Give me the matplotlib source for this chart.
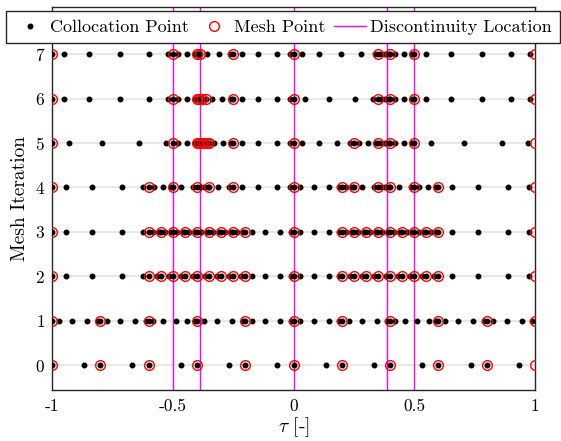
import numpy as np
import matplotlib.pyplot as plt

#--------#
# INPUTS #
#--------#

# Discontinuity locations in tau
disc = [-0.5, -0.389, 0.0, 0.389, 0.5]

# Mesh points (red circles) for each mesh iteration
mesh_0 = [-1, -0.8, -0.6, -0.4, -0.2, 0, 0.2, 0.4, 0.6, 0.8, 1]
mesh_1 = [-1, -0.8, -0.6, -0.4, -0.2, 0, 0.2, 0.4, 0.6, 0.8, 1]
mesh_2 = [-1, -0.6, -0.55, -0.5, -0.45, -0.4, -0.35, -0.3, -0.25, -0.2, 0,
          0.2, 0.25, 0.3, 0.35, 0.4, 0.45, 0.5, 0.55, 0.6, 1]
mesh_3 = [-1, -0.6, -0.55, -0.5, -0.45, -0.4, -0.35, -0.3, -0.25, -0.2, 0,
          0.2, 0.25, 0.3, 0.35, 0.4, 0.45, 0.5, 0.55, 0.6, 1]
mesh_4 = [-1, -0.6, -0.5, -0.4, -0.35, -0.25, 0,
          0.2, 0.25, 0.35, 0.4, 0.5, 0.6, 1]
mesh_5 = [-1, -0.5, -0.4, -0.39, -0.38, -0.37, -0.36, -0.35, -0.25, 0,
          0.25, 0.35, 0.4, 0.5, 1]
mesh_6 = [-1, -0.5, -0.4, -0.39, -0.38, -0.3625, -0.25, 0,
          0.35, 0.4, 0.5, 1]
mesh_7 = [-1, -0.5, -0.4, -0.389, -0.25, 0, 0.35, 0.4, 0.5, 1]

# Collocation points (black dots) for each mesh iteration
coll_0 = [-1, -0.867, -0.8, -0.667, -0.6, -0.467, -0.4, -0.267, -0.2, -0.067,
          0, 0.133, 0.2, 0.333, 0.4, 0.533, 0.6, 0.733, 0.8, 0.933]
coll_1 = [-1, -0.972, -0.917, -0.855, -0.811,
          -0.8, -0.772, -0.717, -0.655, -0.611,
          -0.6, -0.580, -0.539, -0.488, -0.440, -0.408,
          -0.4, -0.372, -0.317, -0.255, -0.211,
          -0.2, -0.172, -0.117, -0.055, -0.011,
          0, 0.028, 0.083, 0.145, 0.189,
          0.2, 0.228, 0.283, 0.345, 0.389,
          0.4, 0.420, 0.461, 0.512, 0.560, 0.592,
          0.6, 0.628, 0.683, 0.745, 0.789,
          0.8, 0.828, 0.883, 0.945, 0.989]
coll_2 = [-1, -0.944, -0.834, -0.711, -0.623,
          -0.6, -0.567, -0.55, -0.517, -0.5, -0.467, -0.45, -0.417,
          -0.4, -0.367, -0.35, -0.317, -0.3, -0.267, -0.25, -0.217,
          -0.2, -0.172, -0.117, -0.055, -0.011,
          0, 0.028, 0.083, 0.145, 0.189,
          0.2, 0.233, 0.25, 0.283, 0.3, 0.333, 0.35, 0.383,
          0.4, 0.433, 0.45, 0.483, 0.5, 0.533, 0.55, 0.583,
          0.6, 0.656, 0.766, 0.889, 0.977]
coll_3 = [-1, -0.944, -0.834, -0.711, -0.623,
          -0.6, -0.582, -0.558, -0.55, -0.532, -0.508,
          -0.5, -0.482, -0.458, -0.45, -0.432, -0.408,
          -0.4, -0.382, -0.358, -0.35, -0.332, -0.308,
          -0.3, -0.282, -0.258, -0.25, -0.232, -0.208,
          -0.2, -0.172, -0.117, -0.055, -0.011,
          0, 0.028, 0.083, 0.145, 0.189,
          0.2, 0.218, 0.242, 0.25, 0.268, 0.292,
          0.3, 0.318, 0.342, 0.35, 0.368, 0.392,
          0.4, 0.418, 0.442, 0.45, 0.468, 0.492,
          0.5, 0.518, 0.542, 0.55, 0.568, 0.592,
          0.6, 0.656, 0.766, 0.889, 0.977]
coll_4 = [-1, -0.944, -0.834, -0.711, -0.623,
          -0.6, -0.579, -0.541, -0.509,
          -0.5, -0.4645, -0.4155,
          -0.4, -0.389, -0.370, -0.354,
          -0.35, -0.3145, -0.2655,
          -0.25, -0.215, -0.146, -0.069, -0.014,
          0, 0.028, 0.083, 0.145, 0.189,
          0.2, 0.218, 0.242,
          0.25, 0.2855, 0.3345,
          0.35, 0.361, 0.380, 0.396,
          0.4, 0.4355, 0.4845,
          0.5, 0.521, 0.559, 0.591,
          0.6, 0.656, 0.766, 0.889, 0.977]
coll_5 = [-1, -0.930, -0.792, -0.6385, -0.5285,
          -0.5, -0.479, -0.441, -0.409,
          -0.4, -0.396, -0.39, -0.386, -0.38, -0.376, -0.37, -0.366,
          -0.36, -0.356,
          -0.35, -0.329, -0.291, -0.259,
          -0.25, -0.215, -0.146, -0.069, -0.014,
          0, 0.035, 0.104, 0.181, 0.236,
          0.25, 0.271, 0.309, 0.341,
          0.35, 0.361, 0.380, 0.396,
          0.4, 0.421, 0.459, 0.491,
          0.5, 0.570, 0.708, 0.8615, 0.9715]
coll_6 = [-1, -0.951, -0.848, -0.719, -0.599, -0.520,
          -0.5, -0.479, -0.441, -0.409,
          -0.4, -0.396, -0.39, -0.386, -0.38, -0.372,
          -0.3625, -0.3386, -0.296, -0.260,
          -0.25, -0.215, -0.146, -0.069, -0.014,
          0, 0.049, 0.146, 0.253, 0.330,
          0.35, 0.361, 0.380, 0.396,
          0.4, 0.421, 0.459, 0.491,
          0.5, 0.549, 0.652, 0.781, 0.901, 0.980]
coll_7 = [-1, -0.951, -0.848, -0.719, -0.599, -0.520,
          -0.5, -0.479, -0.441, -0.409,
          -0.4, -0.396, -0.391,
          -0.389, -0.3595, -0.307, -0.2623,
          -0.25, -0.215, -0.146, -0.069, -0.014,
          0, 0.035, 0.107, 0.197, 0.281, 0.336,
          0.35, 0.361, 0.380, 0.396,
          0.4, 0.421, 0.459, 0.491,
          0.5, 0.549, 0.652, 0.781, 0.901, 0.980]

meshes = [mesh_0, mesh_1, mesh_2, mesh_3, mesh_4, mesh_5, mesh_6, mesh_7]
colls = [coll_0, coll_1, coll_2, coll_3, coll_4, coll_5, coll_6, coll_7]

xticks = [-1, -0.5, 0, 0.5, 1]
xticklabels = ['-1', '-0.5', '0', '0.5', '1']

#----------------#
# Visualizations #
#----------------#

plt.rcParams['font.family'] = 'serif'
plt.rcParams['font.serif'] = ['cmr10']
plt.rcParams['mathtext.fontset'] = 'cm'
plt.rcParams['axes.formatter.use_mathtext'] = True

fig = plt.figure(figsize=(5.61, 4.41), dpi=100)
ax = fig.add_axes([52/561, 1-390/441, (535-52)/561, (390-7)/441])

# light horizontal lines at each iteration
ax.yaxis.grid(True, color='#e3e3e3', linewidth=1.2, zorder=0)
ax.set_axisbelow(True)

for i in range(len(meshes)):
    ax.plot(colls[i], [i]*len(colls[i]), linestyle='none', marker='.',
            color='k', markersize=6.5, zorder=3,
            label='Collocation Point' if i == 0 else None)
    ax.plot(meshes[i], [i]*len(meshes[i]), linestyle='none', marker='o',
            markerfacecolor='none', markeredgecolor='red', markersize=7,
            markeredgewidth=1.0, zorder=4,
            label='Mesh Point' if i == 0 else None)

for j, d in enumerate(disc):
    ax.axvline(d, color='magenta', linewidth=1.0, zorder=2,
               label='Discontinuity Location' if j == 0 else None)

ax.set_xlim([-1, 1])
ax.set_ylim([-0.56, 8.06])
ax.set_xticks(xticks)
ax.set_xticklabels(xticklabels)
ax.set_yticks(range(8))
ax.tick_params(labelsize=12.5, direction='in', length=0)
ax.tick_params(axis='x', pad=6)
ax.tick_params(axis='y', pad=5)
for s in ax.spines.values():
    s.set_color('#262626')
    s.set_linewidth(1.0)

ax.set_xlabel(r'$\tau$ [-]', fontsize=14, labelpad=1)
ax.set_ylabel('Mesh Iteration', fontsize=14, labelpad=4)

leg = ax.legend(loc='center', bbox_to_anchor=(283/561, 1-27/441),
                bbox_transform=fig.transFigure, ncol=3, fontsize=13,
                frameon=True, fancybox=False, edgecolor='#262626',
                framealpha=1, borderpad=0.45, columnspacing=0.5,
                handlelength=1.77, handletextpad=0.22, borderaxespad=0)
leg.get_frame().set_linewidth(1.0)

fig.savefig('out.png', dpi=100)
